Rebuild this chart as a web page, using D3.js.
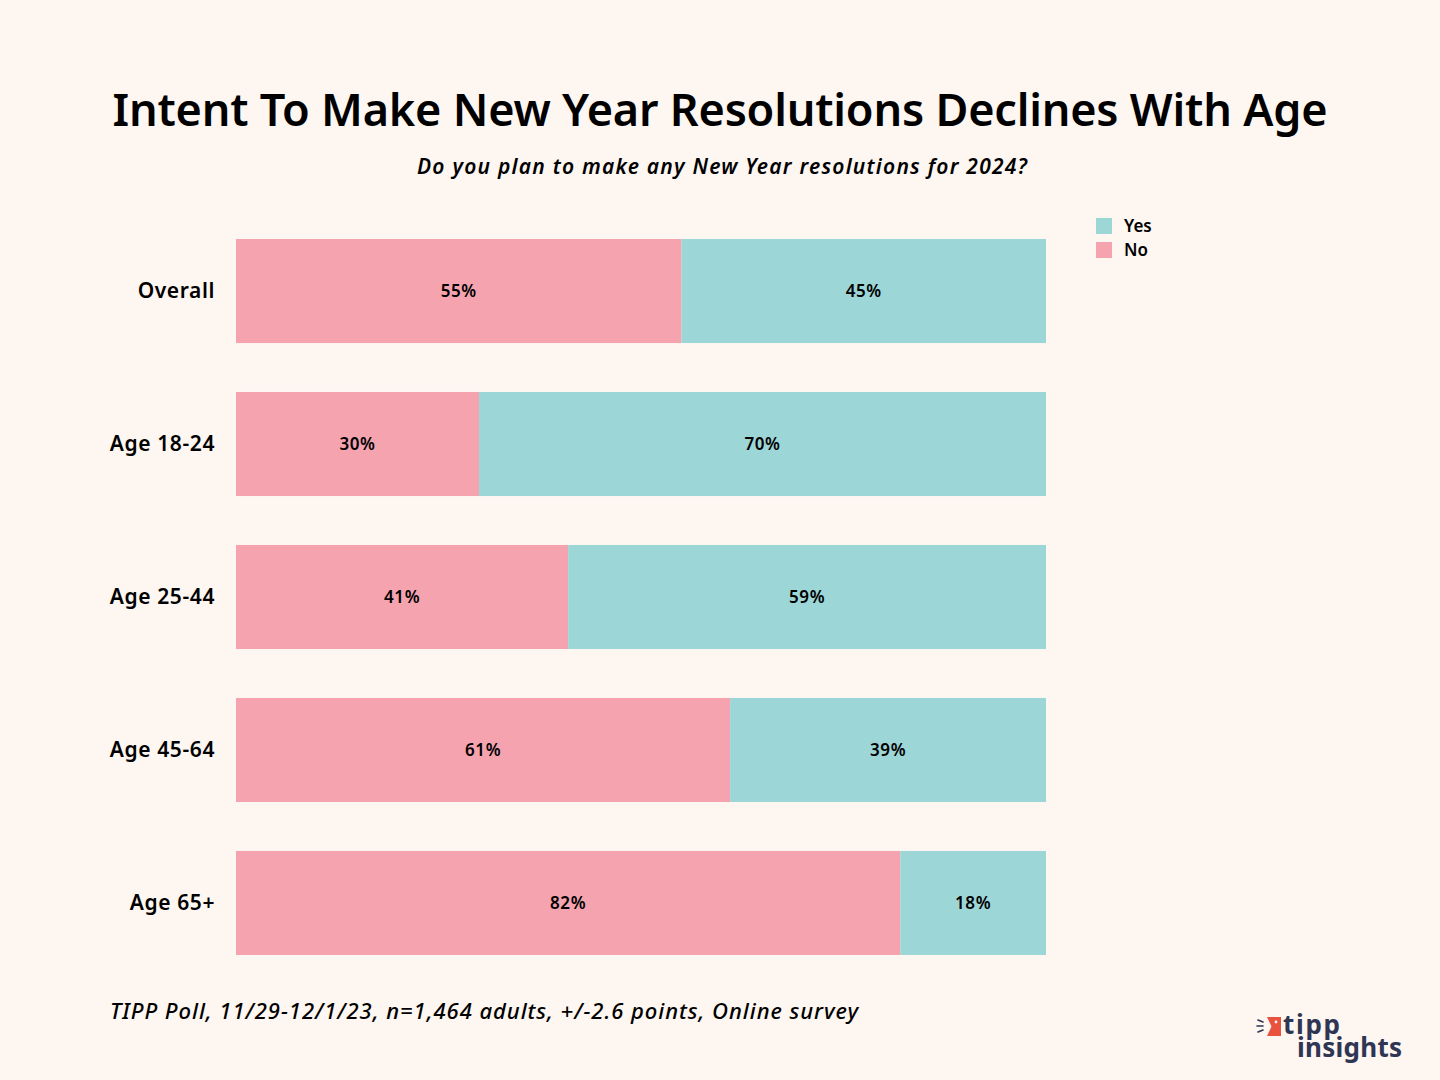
<!DOCTYPE html>
<html>
<head>
<meta charset="utf-8">
<script src="https://cdn.jsdelivr.net/npm/d3@7"></script>
<style>
  body { margin: 0; background: #fdf6f1; }
  svg { display: block; }
</style>
</head>
<body>
<div id="chart"></div>
<script>
// data
var categories = ["Overall", "Age 18-24", "Age 25-44", "Age 45-64", "Age 65+"];
var noValues = [55, 30, 41, 61, 82];
var yesValues = [45, 70, 59, 39, 18];
var seriesNames = ["Yes", "No"];

var W = 1440, H = 1080;
var pink = "#f6a3b0", teal = "#9dd6d7";
var font = "'Noto Sans', sans-serif";

var svg = d3.select("#chart").append("svg")
    .attr("width", W)
    .attr("height", H)
    .style("background", "#fdf6f1");

var x = d3.scaleLinear().domain([0, 100]).range([236, 1046]);
var y = d3.scaleBand().domain(categories).range([239, 955]).paddingInner(0.32).paddingOuter(0);

var rows = categories.map(function(c, i){
  return {cat: c, no: noValues[i], yes: yesValues[i]};
});

//title + subtitle
svg.append("text")
    .attr("x", 720).attr("y", 126)
    .attr("text-anchor", "middle")
    .attr("font-family", font)
    .attr("font-weight", 600)
    .attr("font-size", 45)
    .attr("textLength", 1215)
    .attr("fill", "#000")
    .text("Intent To Make New Year Resolutions Declines With Age");

svg.append("text")
    .attr("x", 722).attr("y", 174)
    .attr("text-anchor", "middle")
    .attr("font-family", font)
    .attr("font-style", "italic")
    .attr("font-weight", 600)
    .attr("font-size", 21)
    .attr("textLength", 610)
    .attr("fill", "#000")
    .text("Do you plan to make any New Year resolutions for 2024?");

var g = svg.append("g");

// No segments
g.selectAll("rect.no").data(rows).enter().append("rect")
    .attr("class", "no")
    .attr("x", x(0))
    .attr("y", function(d){ return y(d.cat); })
    .attr("width", function(d){ return x(d.no) - x(0); })
    .attr("height", y.bandwidth())
    .attr("fill", pink);

// Yes segments
g.selectAll("rect.yes").data(rows).enter().append("rect")
    .attr("class", "yes")
    .attr("x", function(d){ return x(d.no); })
    .attr("y", function(d){ return y(d.cat); })
    .attr("width", function(d){ return x(d.no + d.yes) - x(d.no); })
    .attr("height", y.bandwidth())
    .attr("fill", teal);

// value labels
g.selectAll("text.nol").data(rows).enter().append("text")
    .attr("x", function(d){ return (x(0) + x(d.no)) / 2; })
    .attr("y", function(d){ return y(d.cat) + y.bandwidth() / 2 + 6; })
    .attr("text-anchor", "middle")
    .attr("font-family", font)
    .attr("font-weight", 600)
    .attr("font-size", 17)
    .attr("letter-spacing", 0.6)
    .text(function(d){ return d.no + "%"; });

g.selectAll("text.yesl").data(rows).enter().append("text")
    .attr("x", function(d){ return (x(d.no) + x(d.no + d.yes)) / 2; })
    .attr("y", function(d){ return y(d.cat) + y.bandwidth() / 2 + 6; })
    .attr("text-anchor", "middle")
    .attr("font-family", font)
    .attr("font-weight", 600)
    .attr("font-size", 17)
    .attr("letter-spacing", 0.6)
    .text(function(d){ return d.yes + "%"; });

// category labels
g.selectAll("text.cat").data(rows).enter().append("text")
    .attr("x", 215)
    .attr("y", function(d){ return y(d.cat) + y.bandwidth() / 2 + 7; })
    .attr("text-anchor", "end")
    .attr("font-family", font)
    .attr("font-weight", 600)
    .attr("font-size", 21)
    .attr("letter-spacing", 0.6)
    .text(function(d){ return d.cat; });

// legend
var leg = svg.append("g").attr("transform", "translate(1096,218)");
seriesNames.forEach(function(s, i){
  leg.append("rect")
      .attr("x", 0).attr("y", i * 24)
      .attr("width", 16).attr("height", 16)
      .attr("fill", s == "Yes" ? teal : pink);
  leg.append("text")
      .attr("x", 28).attr("y", i * 24 + 14)
      .attr("font-family", font)
      .attr("font-weight", 600)
      .attr("font-size", 17)
      .text(s);
});

// footer
svg.append("text")
    .attr("x", 110).attr("y", 1019)
    .attr("font-family", font)
    .attr("font-style", "italic")
    .attr("font-weight", 500)
    .attr("font-size", 22)
    .attr("textLength", 748)
    .text("TIPP Poll, 11/29-12/1/23, n=1,464 adults, +/-2.6 points, Online survey");

// logo
var logo = svg.append("g");
logo.append("path")
    .attr("d", "M1267,1017 L1281,1017 L1281,1036 L1267,1036 L1271.5,1026.5 Z")
    .attr("fill", "#e8523f");
logo.append("circle").attr("cx", 1276).attr("cy", 1022).attr("r", 1.4).attr("fill", "#fdf6f1");
[[1258,1020,1263,1022],[1257,1026,1263,1026],[1258,1032,1263,1030]].forEach(function(l){
  logo.append("line").attr("x1", l[0]).attr("y1", l[1]).attr("x2", l[2]).attr("y2", l[3])
      .attr("stroke", "#2f3553").attr("stroke-width", 1.6).attr("stroke-linecap", "round");
});
var lt = logo.append("text")
    .attr("font-family", font).attr("font-weight", 700).attr("font-size", 26)
    .attr("fill", "#2f3553");
lt.append("tspan").attr("x", 1283).attr("y", 1034).attr("textLength", 57).text("tipp");
lt.append("tspan").attr("x", 1297).attr("y", 1057).attr("textLength", 105).text("insights");
</script>
</body>
</html>
